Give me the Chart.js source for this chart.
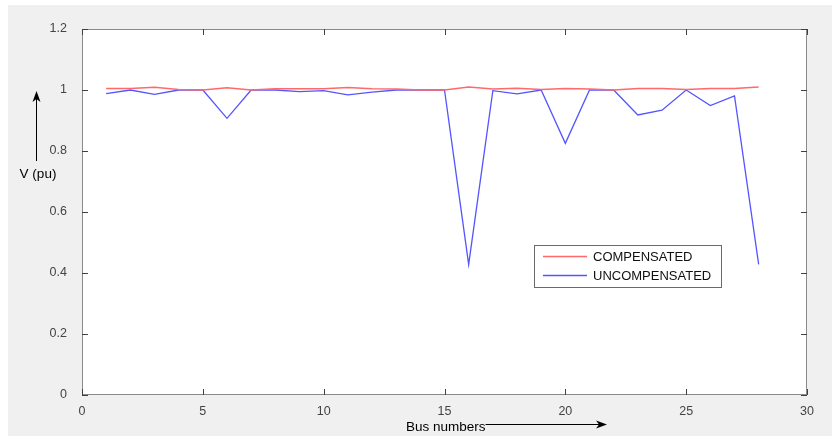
<!DOCTYPE html>
<html>
<head>
<meta charset="utf-8">
<script src="https://cdn.jsdelivr.net/npm/chart.js@4.4.0/dist/chart.umd.min.js"></script>
<style>
  html, body { margin: 0; padding: 0; background: #fff; }
  #wrap { position: absolute; left: 0; top: 0; width: 832px; height: 436px; }
</style>
</head>
<body>
<div id="wrap"><canvas id="lineChart" width="832" height="436"></canvas></div>
<script>
// données
var buses = [1, 2, 3, 4, 5, 6, 7, 8, 9, 10, 11, 12, 13, 14, 15, 16, 17, 18, 19, 20, 21, 22, 23, 24, 25, 26, 27, 28];
var compensated = [1.005, 1.005, 1.009, 1.002, 1.0, 1.007, 1.0, 1.004, 1.004, 1.004, 1.008, 1.004, 1.003, 1.0, 1.0,
    1.01, 1.003, 1.006, 1.002, 1.005, 1.003, 1.0, 1.005, 1.005, 1.002, 1.005, 1.005, 1.01];
var uncompensated = [0.988, 1.0, 0.986, 1.0, 1.0, 0.907, 1.0, 1.0, 0.995, 0.998, 0.984, 0.993, 1.0, 1.0, 1.0,
    0.428, 0.998, 0.987, 1.0, 0.825, 1.0, 1.0, 0.918, 0.934, 1.0, 0.949, 0.981, 0.428];
var xTicks = [0, 5, 10, 15, 20, 25, 30];
var yTicks = [0, 0.2, 0.4, 0.6, 0.8, 1, 1.2];

var FONT = '"Liberation Sans", Arial, sans-serif';

function toPoints(vals) {
    return buses.map(function (b, i) { return { x: b, y: vals[i] }; });
}

function arrowHead(ctx, x, y, dir) {
    // dir: 'up' ou 'right'
    ctx.beginPath();
    if (dir === 'up') {
        ctx.moveTo(x, y);
        ctx.lineTo(x - 4, y + 11);
        ctx.lineTo(x, y + 8);
        ctx.lineTo(x + 4, y + 11);
    } else {
        ctx.moveTo(x, y);
        ctx.lineTo(x - 11, y - 4);
        ctx.lineTo(x - 8, y);
        ctx.lineTo(x - 11, y + 4);
    }
    ctx.closePath();
    ctx.fill();
}

// fond gris de la figure et zone blanche du graphe
var figureBg = {
    id: 'figureBg',
    beforeDraw: function (chart) {
        var c = chart.ctx, a = chart.chartArea;
        c.save();
        c.fillStyle = '#f0f0f0';
        c.fillRect(8, 5, chart.width - 8, chart.height - 5);
        c.fillStyle = '#ffffff';
        c.fillRect(a.left, a.top, a.right - a.left, a.bottom - a.top);
        c.restore();
    },
    afterDatasetsDraw: function (chart) {
        var c = chart.ctx, a = chart.chartArea;
        var xs = chart.scales.x, ys = chart.scales.y;
        c.save();
        c.strokeStyle = '#8a8a8a';
        c.lineWidth = 1;
        c.strokeRect(a.left + 0.5, a.top + 0.5, a.right - a.left - 1, a.bottom - a.top - 1);
        c.strokeStyle = '#404040';
        c.beginPath();
        xTicks.forEach(function (t) {
            var px = Math.round(xs.getPixelForValue(t)) + 0.5;
            c.moveTo(px, a.bottom); c.lineTo(px, a.bottom - 6);
            c.moveTo(px, a.top); c.lineTo(px, a.top + 6);
        });
        yTicks.forEach(function (t) {
            var py = Math.round(ys.getPixelForValue(t)) + 0.5;
            c.moveTo(a.left, py); c.lineTo(a.left + 6, py);
            c.moveTo(a.right, py); c.lineTo(a.right - 6, py);
        });
        c.stroke();

        // étiquettes des axes avec flèches
        c.fillStyle = '#000';
        c.strokeStyle = '#000';
        c.font = '13.5px ' + FONT;
        c.textAlign = 'center';
        c.textBaseline = 'middle';
        c.fillText('V (pu)', 38, 174);
        c.beginPath();
        c.moveTo(36.5, 161); c.lineTo(36.5, 98);
        c.stroke();
        arrowHead(c, 36.5, 91, 'up');

        c.textAlign = 'left';
        c.fillText('Bus numbers', 406, 427);
        var w = c.measureText('Bus numbers').width;
        c.beginPath();
        c.moveTo(406 + w, 424.5); c.lineTo(600, 424.5);
        c.stroke();
        arrowHead(c, 607, 424.5, 'right');
        c.restore();
    }
};

// légende encadrée
var boxLegend = {
    id: 'boxLegend',
    afterDraw: function (chart) {
        var c = chart.ctx;
        c.save();
        c.fillStyle = '#fff';
        c.fillRect(534, 245, 187, 42);
        c.strokeStyle = '#6a6a6a';
        c.lineWidth = 1;
        c.strokeRect(534.5, 245.5, 187, 42);
        c.font = '13px ' + FONT;
        c.textBaseline = 'middle';
        c.fillStyle = '#111';
        chart.data.datasets.forEach(function (ds, i) {
            var y = 256.5 + i * 19;
            c.strokeStyle = ds.borderColor;
            c.lineWidth = 1.5;
            c.beginPath();
            c.moveTo(543, y); c.lineTo(587, y);
            c.stroke();
            c.fillText(ds.label, 593, y + 0.5);
        });
        c.restore();
    }
};

var ctx = document.getElementById('lineChart').getContext('2d');

var myChart = new Chart(ctx, {
    type: 'line',
    data: {
        datasets: [{
            label: 'COMPENSATED',
            data: toPoints(compensated),
            borderColor: 'rgb(255, 105, 105)',
            borderWidth: 1.5,
            pointRadius: 0,
            tension: 0
        }, {
            label: 'UNCOMPENSATED',
            data: toPoints(uncompensated),
            borderColor: 'rgb(85, 85, 255)',
            borderWidth: 1.3,
            pointRadius: 0,
            tension: 0
        }]
    },
    options: {
        responsive: false,
        animation: false,
        layout: { padding: { left: 0, right: 25, top: 29, bottom: 0 } },
        plugins: {
            legend: { display: false },
            tooltip: { enabled: false }
        },
        scales: {
            x: {
                type: 'linear',
                min: 0,
                max: 30,
                afterBuildTicks: function (s) { s.ticks = xTicks.map(function (v) { return { value: v }; }); },
                afterFit: function (s) { s.height = 41; },
                grid: { display: false },
                border: { display: false },
                ticks: {
                    color: '#444',
                    padding: 1,
                    maxRotation: 0,
                    font: { family: FONT, size: 12.5 }
                }
            },
            y: {
                min: 0,
                max: 1.2,
                afterBuildTicks: function (s) { s.ticks = yTicks.map(function (v) { return { value: v }; }); },
                afterFit: function (s) { s.width = 82; },
                grid: { display: false },
                border: { display: false },
                ticks: {
                    color: '#444',
                    padding: 7,
                    font: { family: FONT, size: 12.5 },
                    callback: function (v) { return Math.round(v * 10) / 10; }
                }
            }
        }
    },
    plugins: [figureBg, boxLegend]
});
</script>
</body>
</html>
